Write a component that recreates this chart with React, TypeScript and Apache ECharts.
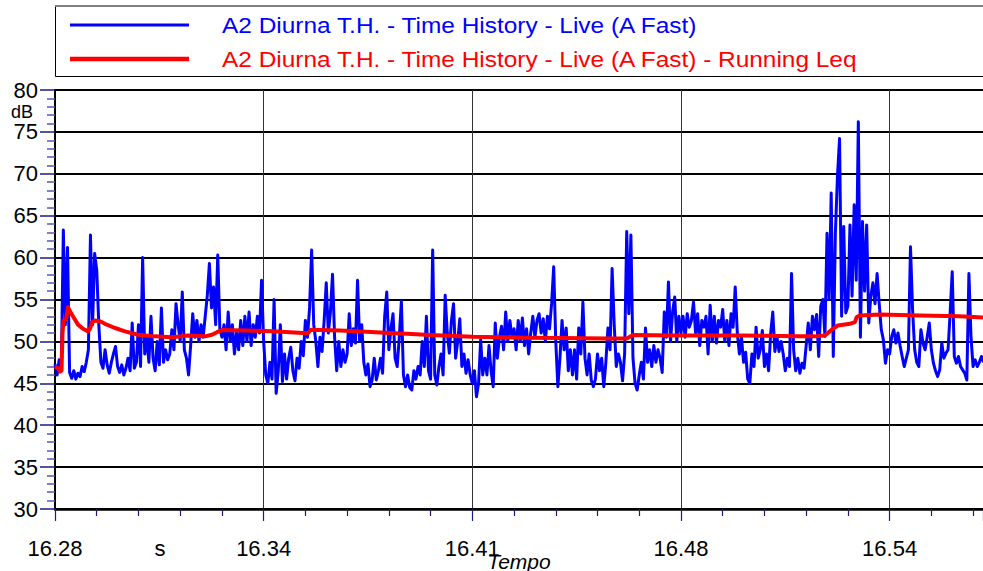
import React, { useEffect, useRef } from "react";
import * as echarts from "echarts";

// ---- data ----
const X_TICK_LABELS = ["16.28", "16.34", "16.41", "16.48", "16.54"];
const X_TICK_STEP_S = 400; // seconds between labelled ticks
const X_MAX_S = 1779; // visible span in seconds
const SAMPLE_S = 4; // logging step of the live time history

const Y_MIN = 30;
const Y_MAX = 80;
const Y_STEP = 5;

const LIVE_NAME = "A2 Diurna T.H. - Time History - Live (A Fast)";
const LEQ_NAME = "A2 Diurna T.H. - Time History - Live (A Fast) - Running Leq";

// Live (A Fast) level, dB, one value every SAMPLE_S seconds (20 values = 80 s per row)
const liveDb = [
  47.3, 46.0, 47.8, 46.5, 63.3, 52.0, 61.2, 46.3, 45.6, 46.5, 45.5, 46.2, 45.8, 47.0, 46.4, 47.5, 49.0, 62.7, 52.0, 60.5,
  58.5, 52.0, 47.5, 46.8, 49.0, 47.2, 46.2, 47.5, 48.5, 49.4, 47.0, 46.3, 47.2, 46.0, 46.8, 48.0, 46.5, 52.2, 46.8, 47.5,
  52.0, 47.0, 60.0, 48.5, 50.5, 47.5, 53.0, 48.0, 46.5, 50.0, 47.2, 54.0, 47.5, 49.0, 47.8, 48.5, 51.4, 49.0, 54.5, 52.0,
  50.0, 55.9, 49.0, 48.0, 46.0, 49.5, 53.3, 50.5, 52.5, 50.0, 52.0, 50.5, 53.0, 55.5, 59.3, 54.0, 56.5, 52.0, 60.3, 51.5,
  50.5, 52.0, 49.0, 53.5, 50.0, 52.0, 48.5, 51.0, 49.0, 52.5, 49.5, 53.0, 50.0, 53.5, 49.5, 52.0, 50.5, 53.0, 51.0, 57.3,
  50.0, 46.0, 45.0, 47.5, 45.5, 55.0, 43.8, 46.5, 52.0, 45.2, 48.5, 45.5, 48.0, 49.3, 46.5, 45.3, 48.0, 46.8, 50.0, 48.3,
  52.5, 50.5, 54.0, 60.9, 52.0, 50.0, 47.0, 50.5, 48.8, 52.5, 57.0, 51.0, 53.5, 58.0, 50.5, 46.5, 50.0, 47.0, 49.0, 47.5,
  48.5, 53.3, 49.5, 51.5, 49.8, 57.3, 50.0, 52.0, 47.5, 46.0, 47.3, 44.6, 45.4, 48.0, 45.4, 46.5, 48.0, 46.2, 53.0, 55.9,
  49.0, 51.5, 53.3, 48.0, 47.0, 50.5, 54.8, 46.0, 44.6, 46.0, 44.5, 44.2, 46.5, 45.5, 47.0, 46.0, 50.0, 47.0, 53.0, 46.5,
  45.5, 60.9, 46.0, 44.8, 47.0, 48.5, 46.0, 55.5, 51.0, 48.6, 52.5, 54.5, 48.0, 50.0, 52.7, 47.0, 48.5, 46.2, 47.8, 46.0,
  45.0, 46.5, 43.4, 45.0, 50.2, 46.0, 48.0, 46.0, 49.5, 46.5, 44.6, 52.2, 48.0, 50.5, 51.8, 49.0, 53.5, 50.0, 52.5, 50.5,
  51.5, 49.0, 52.5, 50.0, 52.8, 49.5, 51.5, 48.5, 51.0, 53.0, 50.5, 52.5, 53.3, 51.0, 52.7, 50.0, 53.0, 51.5, 54.5, 58.9,
  50.0, 44.6, 48.0, 52.5, 49.0, 51.6, 46.5, 49.0, 46.0, 49.0, 45.5, 51.6, 48.5, 54.7, 48.0, 46.0, 48.5, 45.4, 44.6, 45.5,
  48.5, 46.5, 48.0, 44.6, 47.5, 51.6, 49.0, 58.7, 52.0, 47.0, 48.5, 47.5, 45.3, 48.5, 63.1, 53.3, 62.7, 48.0, 45.0, 44.2,
  46.0, 47.5, 45.5, 51.6, 47.5, 49.0, 47.0, 49.5, 47.5, 49.0, 48.0, 46.3, 53.5, 50.5, 57.1, 50.0, 53.5, 55.3, 50.0, 53.0,
  51.0, 53.0, 50.5, 53.3, 51.7, 52.5, 54.7, 51.0, 53.3, 49.5, 52.5, 51.7, 53.0, 48.5, 54.3, 50.0, 53.0, 49.8, 52.5, 51.7,
  53.8, 50.0, 52.5, 49.5, 53.3, 51.7, 56.5, 51.0, 48.5, 50.5, 47.5, 48.7, 45.5, 45.0, 48.5, 47.0, 51.7, 48.0, 49.0, 51.3,
  47.0, 48.5, 46.5, 51.0, 53.5, 48.8, 50.5, 48.8, 50.0, 48.5, 46.5, 48.0, 47.0, 58.1, 49.0, 46.5, 48.0, 46.2, 47.4, 46.8,
  49.5, 52.2, 49.0, 53.0, 51.4, 53.2, 48.2, 54.2, 55.0, 50.6, 62.9, 55.0, 67.7, 48.2, 62.9, 69.7, 74.2, 53.0, 63.7, 53.4,
  54.2, 63.9, 55.4, 66.3, 57.3, 76.2, 50.5, 64.3, 56.0, 63.9, 52.2, 55.4, 57.0, 54.5, 58.1, 54.5, 51.4, 50.2, 47.4, 49.0,
  48.5, 50.6, 51.4, 49.8, 51.0, 49.5, 48.2, 47.0, 48.0, 49.0, 61.3, 53.8, 49.0, 47.5, 47.0, 51.4, 49.8, 49.0, 50.5, 52.2,
  49.0, 47.4, 46.5, 45.8, 46.6, 49.8, 48.0, 48.6, 49.0, 53.4, 58.3, 48.2, 47.4, 48.2, 47.0, 46.6, 46.2, 45.4, 58.1, 50.5,
  47.0, 47.8, 47.0, 47.5, 48.2, 47.5,
];

// Running Leq: times (s) and levels (dB)
const leqT = [
  0, 5.7, 9.6, 12.5, 14.4, 16.3, 21.1, 24.9, 28.7, 36.4, 44.1, 53.7, 63.2, 67.1, 70.9, 76.7, 86.2, 95.8, 115,
  134.2, 159.1, 191.7, 224.2, 239.6, 254.9, 287.5, 300.9, 310.5, 320.1, 364.2, 417.8, 475.3, 484.9, 490.6,
  546.2, 578.8, 642.1, 674.6, 718.7, 801.1, 900.8, 967.9, 1063.7, 1096.3, 1107.8, 1192.1, 1318.6, 1427.9,
  1456.6, 1475.8, 1485.4, 1491.1, 1500.7, 1523.7, 1533.3, 1537.1, 1542.9, 1581.2, 1657.9, 1734.5, 1779,
];
const leqDb = [
  47.0, 46.8, 46.4, 46.5, 51.0, 52.5, 52.6, 54.1, 53.6, 52.8, 52.0, 51.5, 51.2, 51.5, 52.3, 52.5, 52.4, 52.1, 51.6,
  51.2, 50.8, 50.6, 50.5, 50.6, 50.7, 50.6, 50.8, 51.1, 51.35, 51.3, 51.2, 51.0, 51.0, 51.4,
  51.3, 51.2, 51.0, 50.9, 50.75, 50.55, 50.45, 50.4, 50.35, 50.35, 50.75, 50.7, 50.7, 50.6,
  50.6, 50.7, 51.2, 51.5, 51.9, 52.1, 52.3, 52.9, 53.1, 53.2, 53.1, 53.0, 52.85,
];

const FONT = "'Liberation Sans', Arial, Helvetica, sans-serif";
const TICK_NAVY = "#1c1c7c";

export default function App() {
  const ref = useRef<HTMLDivElement>(null);

  useEffect(() => {
    if (!ref.current) return;
    const chart = echarts.init(ref.current, undefined, { renderer: "svg" });

    const liveData = liveDb.map((v, i) => [i * SAMPLE_S, v]);
    const leqData = leqT.map((t, i) => [t, leqDb[i]]);

    chart.setOption({
      animation: false,
      backgroundColor: "#ffffff",
      textStyle: { fontFamily: FONT },
      grid: { left: 55, right: 0, top: 90, bottom: 62, containLabel: false, outerBoundsMode: "none" },
      xAxis: {
        type: "value",
        min: 0,
        max: X_MAX_S,
        interval: X_TICK_STEP_S,
        axisLine: { show: true, onZero: false, lineStyle: { color: "#000", width: 2.5 } },
        axisTick: { show: true, length: 12, lineStyle: { color: TICK_NAVY, width: 1.2 } },
        minorTick: { show: true, splitNumber: 5, length: 7, lineStyle: { color: TICK_NAVY, width: 1.2 } },
        splitLine: { show: true, lineStyle: { color: "#333", width: 1 } },
        axisLabel: {
          formatter: (v: number) => {
            const k = Math.round(v / X_TICK_STEP_S);
            return Math.abs(v - k * X_TICK_STEP_S) < 1e-6 && X_TICK_LABELS[k] ? X_TICK_LABELS[k] : "";
          },
          fontSize: 22,
          color: "#000",
          margin: 28,
          fontFamily: FONT,
          hideOverlap: false,
          showMaxLabel: false,
        },
        name: "Tempo",
        nameLocation: "middle",
        nameGap: 42,
        nameMoveOverlap: false,
        nameTextStyle: { fontStyle: "italic", fontSize: 21, color: "#000", fontFamily: FONT, verticalAlign: "top" },
      },
      yAxis: {
        type: "value",
        min: Y_MIN,
        max: Y_MAX,
        interval: Y_STEP,
        axisLine: { show: true, lineStyle: { color: "#000", width: 2 } },
        axisTick: { show: true, length: 15, lineStyle: { color: TICK_NAVY, width: 1.5 } },
        minorTick: { show: true, splitNumber: 5, length: 8, lineStyle: { color: "#5a5aa0", width: 1.5 } },
        splitLine: { show: true, lineStyle: { color: "#000", width: 2 } },
        axisLabel: { fontSize: 22, lineHeight: 17, color: "#000", margin: 17, fontFamily: FONT },
      },
      series: [
        {
          type: "line",
          name: LIVE_NAME,
          data: liveData,
          symbol: "none",
          showSymbol: false,
          lineStyle: { color: "#0000ff", width: 3, join: "round" },
          itemStyle: { color: "#0000ff" },
          z: 2,
        },
        {
          type: "line",
          name: LEQ_NAME,
          data: leqData,
          symbol: "none",
          showSymbol: false,
          lineStyle: { color: "#ff0000", width: 4, join: "round" },
          itemStyle: { color: "#ff0000" },
          z: 3,
        },
      ],
      graphic: [
        {
          type: "rect",
          z: 10,
          shape: { x: 55.5, y: 6.5, width: 940, height: 70 },
          style: { fill: "#fff", stroke: "#000", lineWidth: 1 },
        },
        {
          type: "line",
          z: 11,
          shape: { x1: 55, y1: 6, x2: 983, y2: 6 },
          style: { stroke: "#808080", lineWidth: 2 },
        },
        {
          type: "line",
          z: 11,
          shape: { x1: 70, y1: 25, x2: 189, y2: 25 },
          style: { stroke: "#0000ff", lineWidth: 3 },
        },
        {
          type: "text",
          z: 11,
          x: 222,
          y: 25,
          scaleX: 1.11,
          style: { text: LIVE_NAME, fill: "#0000ff", fontSize: 22, fontFamily: FONT, align: "left", verticalAlign: "middle" },
        },
        {
          type: "line",
          z: 11,
          shape: { x1: 70, y1: 59, x2: 189, y2: 59 },
          style: { stroke: "#ff0000", lineWidth: 4.5 },
        },
        {
          type: "text",
          z: 11,
          x: 222,
          y: 59,
          scaleX: 1.11,
          style: { text: LEQ_NAME, fill: "#ff0000", fontSize: 22, fontFamily: FONT, align: "left", verticalAlign: "middle" },
        },
        {
          type: "text",
          z: 11,
          x: 11,
          y: 111.5,
          style: { text: "dB", fill: "#000", fontSize: 18, lineHeight: 16, fontFamily: FONT, align: "left", verticalAlign: "middle" },
        },
        {
          type: "text",
          z: 11,
          x: 160,
          y: 548,
          style: { text: "s", fill: "#000", fontSize: 22, fontFamily: FONT, align: "center", verticalAlign: "middle" },
        },
      ],
    });

    return () => chart.dispose();
  }, []);

  return (
    <div
      ref={ref}
      style={{ position: "absolute", left: 0, top: 0, width: 983, height: 571 }}
    />
  );
}
